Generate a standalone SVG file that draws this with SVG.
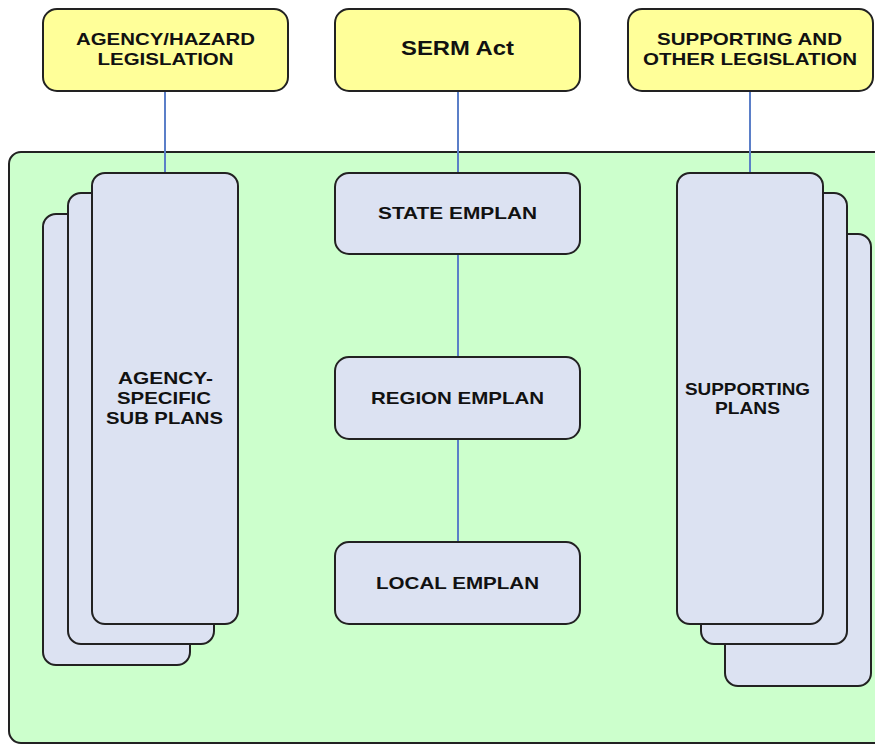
<svg xmlns="http://www.w3.org/2000/svg" width="875" height="744" viewBox="0 0 875 744">
<style>
.leg{fill:#FFFF99;stroke:#222;stroke-width:2}
.plan{fill:#DCE2F2;stroke:#222;stroke-width:2}
.t{font-family:"Liberation Sans",Arial,sans-serif;font-weight:bold;font-size:17px;fill:#111;text-anchor:middle}
.c{stroke:#5B7FC8;stroke-width:2;fill:none}
</style>
<rect width="875" height="744" fill="#ffffff"/>
<g id="container">
<rect x="9" y="152" width="900" height="591" rx="12" fill="#CCFFCC" stroke="#222" stroke-width="2"/>
</g>
<g id="connectors">
<line class="c" x1="165" y1="91" x2="165" y2="173"/>
<line class="c" x1="458" y1="91" x2="458" y2="173"/>
<line class="c" x1="750" y1="91" x2="750" y2="173"/>
<line class="c" x1="458" y1="254" x2="458" y2="357"/>
<line class="c" x1="458" y1="439" x2="458" y2="542"/>
</g>
<g id="agency-legislation">
<rect class="leg" x="43" y="9" width="245" height="82" rx="14"/>
<text class="t" x="165.5" y="45" textLength="179" lengthAdjust="spacingAndGlyphs">AGENCY/HAZARD</text>
<text class="t" x="165.5" y="64.5" textLength="136" lengthAdjust="spacingAndGlyphs">LEGISLATION</text>
</g>
<g id="serm-act">
<rect class="leg" x="335" y="9" width="245" height="82" rx="14"/>
<text class="t" x="457.5" y="55" style="font-size:20px" textLength="113" lengthAdjust="spacingAndGlyphs">SERM Act</text>
</g>
<g id="supporting-legislation">
<rect class="leg" x="628" y="9" width="245" height="82" rx="14"/>
<text class="t" x="749.5" y="45" textLength="185" lengthAdjust="spacingAndGlyphs">SUPPORTING AND</text>
<text class="t" x="750" y="64.5" textLength="214" lengthAdjust="spacingAndGlyphs">OTHER LEGISLATION</text>
</g>
<g id="agency-sub-plans">
<rect class="plan" x="43" y="214" width="147" height="451" rx="13"/>
<rect class="plan" x="68" y="193" width="146" height="451" rx="13"/>
<rect class="plan" x="92" y="173" width="146" height="451" rx="13"/>
<text class="t" x="165.5" y="383.5" textLength="95" lengthAdjust="spacingAndGlyphs">AGENCY-</text>
<text class="t" x="164" y="403.5" textLength="94" lengthAdjust="spacingAndGlyphs">SPECIFIC</text>
<text class="t" x="164.5" y="424" textLength="117" lengthAdjust="spacingAndGlyphs">SUB PLANS</text>
</g>
<g id="supporting-plans">
<rect class="plan" x="725" y="234" width="146" height="452" rx="13"/>
<rect class="plan" x="701" y="193" width="146" height="451" rx="13"/>
<rect class="plan" x="677" y="173" width="146" height="451" rx="13"/>
<text class="t" x="747.5" y="394.5" textLength="125" lengthAdjust="spacingAndGlyphs">SUPPORTING</text>
<text class="t" x="747.5" y="413.5" textLength="65" lengthAdjust="spacingAndGlyphs">PLANS</text>
</g>
<g id="state-emplan">
<rect class="plan" x="335" y="173" width="245" height="81" rx="14"/>
<text class="t" x="457.5" y="218.5" textLength="159" lengthAdjust="spacingAndGlyphs">STATE EMPLAN</text>
</g>
<g id="region-emplan">
<rect class="plan" x="335" y="357" width="245" height="82" rx="14"/>
<text class="t" x="457.5" y="403.5" textLength="173" lengthAdjust="spacingAndGlyphs">REGION EMPLAN</text>
</g>
<g id="local-emplan">
<rect class="plan" x="335" y="542" width="245" height="82" rx="14"/>
<text class="t" x="457.5" y="588.5" textLength="163" lengthAdjust="spacingAndGlyphs">LOCAL EMPLAN</text>
</g>
</svg>
